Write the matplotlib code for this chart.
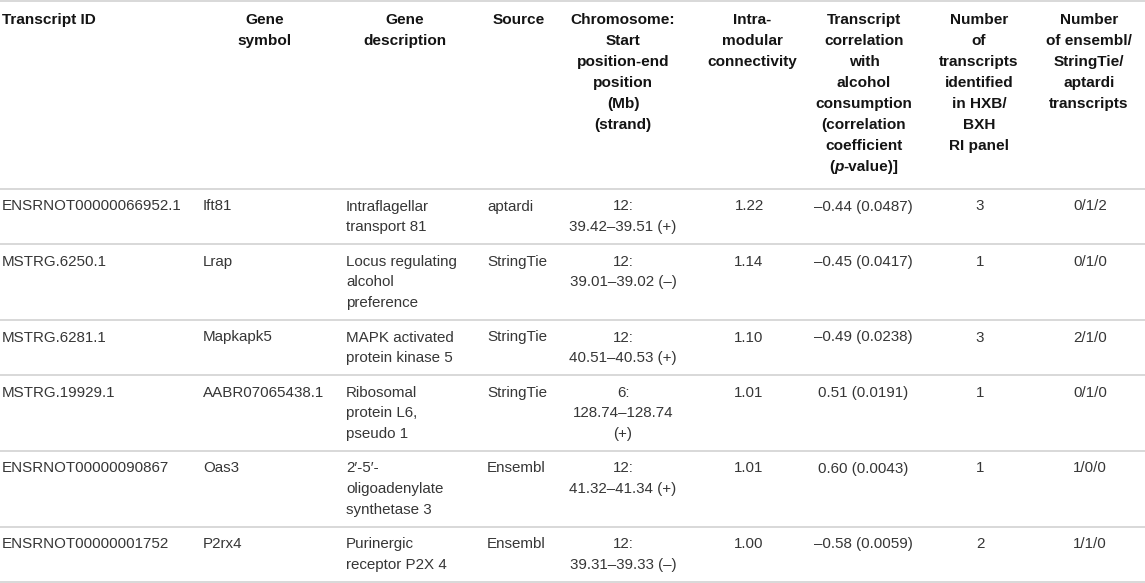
import matplotlib
matplotlib.use("Agg")
import matplotlib.pyplot as plt

# ---------------- data ----------------
headers = [
    "Transcript ID",
    "Gene\nsymbol",
    "Gene\ndescription",
    "Source",
    "Chromosome:\nStart\nposition-end\nposition\n(Mb)\n(strand)",
    "Intra-\nmodular\nconnectivity",
    "Transcript\ncorrelation\nwith\nalcohol\nconsumption\n(correlation\ncoefficient\n(p-value)]",
    "Number\nof\ntranscripts\nidentified\nin HXB/\nBXH\nRI panel",
    "Number\nof ensembl/\nStringTie/\naptardi\ntranscripts",
]
transcript_ids = ["ENSRNOT00000066952.1", "MSTRG.6250.1", "MSTRG.6281.1",
                  "MSTRG.19929.1", "ENSRNOT00000090867", "ENSRNOT00000001752"]
gene_symbols = ["Ift81", "Lrap", "Mapkapk5", "AABR07065438.1", "Oas3", "P2rx4"]
gene_descriptions = ["Intraflagellar\ntransport 81",
                     "Locus regulating\nalcohol\npreference",
                     "MAPK activated\nprotein kinase 5",
                     "Ribosomal\nprotein L6,\npseudo 1",
                     "2\u2032-5\u2032-\noligoadenylate\nsynthetase 3",
                     "Purinergic\nreceptor P2X 4"]
sources = ["aptardi", "StringTie", "StringTie", "StringTie", "Ensembl", "Ensembl"]
chromosomes = ["12", "12", "12", "6", "12", "12"]
start_mb = [39.42, 39.01, 40.51, 128.74, 41.32, 39.31]
end_mb = [39.51, 39.02, 40.53, 128.74, 41.34, 39.33]
strands = ["+", "\u2013", "+", "+", "+", "\u2013"]
connectivity = [1.22, 1.14, 1.10, 1.01, 1.01, 1.00]
correlations = [-0.44, -0.45, -0.49, 0.51, 0.60, -0.58]
p_values = [0.0487, 0.0417, 0.0238, 0.0191, 0.0043, 0.0059]
n_transcripts = [3, 1, 3, 1, 1, 2]
n_ensembl = [0, 0, 2, 0, 1, 1]
n_stringtie = [1, 1, 1, 1, 0, 1]
n_aptardi = [2, 0, 0, 0, 0, 0]

# ---------------- build cell text ----------------
def fmt_signed(v, nd):
    s = f"{abs(v):.{nd}f}"
    return ("\u2013" + s) if v < 0 else s

locations = []
for c, s, e, st in zip(chromosomes, start_mb, end_mb, strands):
    rng = f"{s:.2f}\u2013{e:.2f}"
    if len(rng) > 11:
        locations.append(f"{c}:\n{rng}\n({st})")
    else:
        locations.append(f"{c}:\n{rng} ({st})")
corr_text = [f"{fmt_signed(r, 2)} ({p:.4f})" for r, p in zip(correlations, p_values)]
conn_text = [f"{v:.2f}" for v in connectivity]
ntr_text = [str(v) for v in n_transcripts]
ens_text = [f"{a}/{b}/{c}" for a, b, c in zip(n_ensembl, n_stringtie, n_aptardi)]

columns = [transcript_ids, gene_symbols, gene_descriptions, sources, locations,
           conn_text, corr_text, ntr_text, ens_text]

# ---------------- layout ----------------
W, H = 1145, 583
FONT = ["Liberation Sans", "DejaVu Sans"]
FS_BODY = 10.9
FS_HEAD = 11.1
BODY_COLOR = "#363636"
HEAD_COLOR = "#141414"
RULE_COLOR = "#d6d6d6"

head_x = [2, 265, 405, 519, 623, 752, 864, 979, 1089]
head_ha = ["left"] + ["center"] * 8
data_x = [2, 203, 346, 487, 623, 749, 863, 980, 1090]
data_ha = ["left", "left", "left", "left", "center", "center", "center", "center", "center"]

HEAD_TOP = 1
HEAD_FIRST = 20
HEAD_STEP = 21
HEAD_BOTTOM = 189
ROW_PAD = 14
ROW_STEP = 20.6
ROW_FIRST = 17.5

fig = plt.figure(figsize=(W / 100, H / 100), dpi=100)
ax = fig.add_axes([0, 0, 1, 1])
ax.set_xlim(0, W)
ax.set_ylim(H, 0)
ax.axis("off")
renderer = fig.canvas.get_renderer()


def rich_line(x, y, segments, ha, color, weight, fs):
    texts = []
    widths = []
    for txt, style in segments:
        t = ax.text(0, y, txt, family=FONT, fontsize=fs, fontweight=weight,
                    fontstyle=style, color=color, ha="left", va="center")
        texts.append(t)
        widths.append(t.get_window_extent(renderer).width)
    total = sum(widths)
    left = x - total / 2 if ha == "center" else x
    for t, w in zip(texts, widths):
        t.set_x(left)
        left += w


# header
for j, h in enumerate(headers):
    for i, line in enumerate(h.split("\n")):
        y = HEAD_FIRST + i * HEAD_STEP
        if line == "(p-value)]":
            rich_line(head_x[j], y, [("(", "normal"), ("p", "italic"), ("-value)]", "normal")],
                      head_ha[j], HEAD_COLOR, "bold", FS_HEAD)
        else:
            ax.text(head_x[j], y, line, family=FONT, fontsize=FS_HEAD, fontweight="bold",
                    color=HEAD_COLOR, ha=head_ha[j], va="center")

rules = [HEAD_TOP, HEAD_BOTTOM]
top = HEAD_BOTTOM
n_rows = len(transcript_ids)
for r in range(n_rows):
    cells = [col[r] for col in columns]
    nlines = max(c.count("\n") + 1 for c in cells)
    for j, c in enumerate(cells):
        for i, line in enumerate(c.split("\n")):
            ax.text(data_x[j], top + ROW_FIRST + i * ROW_STEP, line, family=FONT,
                    fontsize=FS_BODY, color=BODY_COLOR, ha=data_ha[j], va="center")
    top = top + ROW_PAD + ROW_STEP * nlines
    rules.append(top)

ax.hlines(rules, 0, W, color=RULE_COLOR, lw=1.3)

fig.savefig("out.png", dpi=100, facecolor="white")
